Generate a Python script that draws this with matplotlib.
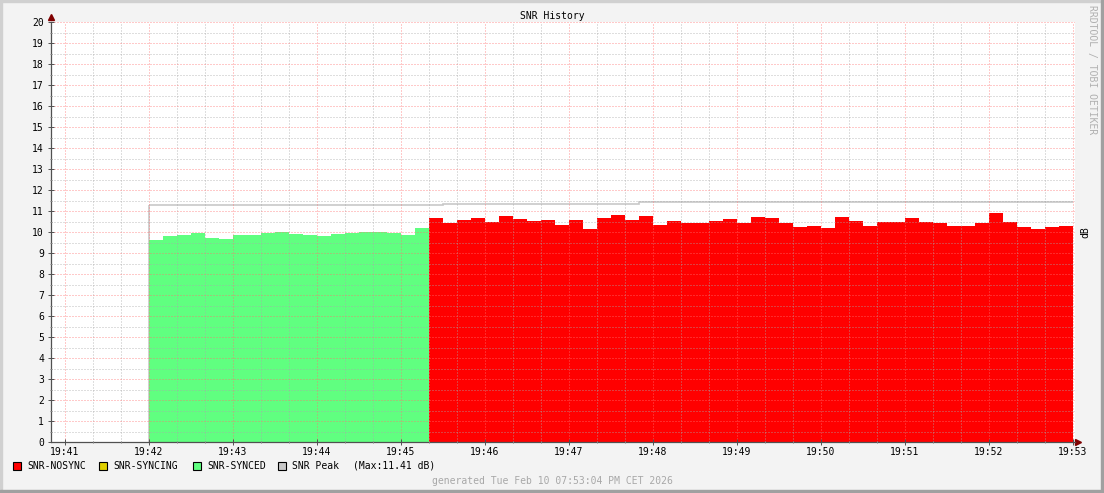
import numpy as np
import matplotlib
matplotlib.use("Agg")  # no display
import matplotlib.pyplot as plt
from matplotlib.patches import Rectangle
from matplotlib.ticker import FixedLocator, MultipleLocator

# --- data (time in seconds after 19:41:00, 10 s steps) ---
step_seconds = 10
synced_start = 60      # 19:42:00
synced_snr = [9.62, 9.81, 9.86, 9.95, 9.71, 9.67, 9.86, 9.86, 9.95, 10.00,
              9.90, 9.86, 9.81, 9.90, 9.95, 10.00, 10.00, 9.95, 9.86, 10.19]
nosync_snr = [10.67, 10.43, 10.57, 10.67, 10.48, 10.76, 10.62, 10.52, 10.57, 10.33,
              10.57, 10.14, 10.67, 10.81, 10.57, 10.76, 10.33, 10.52, 10.43, 10.43,
              10.52, 10.62, 10.43, 10.71, 10.67, 10.43, 10.24, 10.29, 10.19, 10.71,
              10.52, 10.29, 10.48, 10.48, 10.67, 10.48, 10.43, 10.29, 10.29, 10.43,
              10.90, 10.48, 10.24, 10.14, 10.24, 10.29]
peak_edges = [60, 270, 410, 720]
peak_values = [11.29, 11.33, 11.41]
time_labels = ["19:41", "19:42", "19:43", "19:44", "19:45", "19:46", "19:47",
               "19:48", "19:49", "19:50", "19:51", "19:52", "19:53"]

legend_items = [("SNR-NOSYNC", "#ff0000"), ("SNR-SYNCING", "#e0d000"),
                ("SNR-SYNCED", "#60ff80"), ("SNR Peak", "#c8c8c8")]

W, H = 1104, 493
MONO = "DejaVu Sans Mono"
FS = 7


def fx(px):
    return px / W


def fy(py):
    return 1 - py / H


fig = plt.figure(figsize=(W / 100, H / 100), dpi=100, facecolor="#f3f3f3")
ax = fig.add_axes([fx(51), fy(442), fx(1075) - fx(51), (442 - 22) / H])
ax.set_facecolor("white")

synced_edges = synced_start + step_seconds * np.arange(len(synced_snr) + 1)
nosync_edges = synced_edges[-1] + step_seconds * np.arange(len(nosync_snr) + 1)

# peak line (rises from zero at its first sample, hidden under the areas)
ax.stairs(peak_values, peak_edges, baseline=None, color="#c8c8c8", lw=1.2, zorder=0.5)
ax.vlines(peak_edges[0], 0, peak_values[0], color="#c8c8c8", lw=1.2, zorder=0.5)
ax.stairs(synced_snr, synced_edges, baseline=0, fill=True, color="#60ff80", zorder=1)
ax.stairs(nosync_snr, nosync_edges, baseline=0, fill=True, color="#ff0000", zorder=1)

ax.set_xlim(-10, 721.4)
ax.set_ylim(0, 20)

ax.xaxis.set_major_locator(FixedLocator(60 * np.arange(len(time_labels))))
ax.set_xticklabels(time_labels)
ax.xaxis.set_minor_locator(MultipleLocator(20))
ax.yaxis.set_major_locator(MultipleLocator(1))
ax.yaxis.set_minor_locator(MultipleLocator(0.5))

ax.set_axisbelow(False)
ax.grid(which="minor", color="#a8a8a8", alpha=0.75, lw=0.72, linestyle=(0, (1, 2)))
ax.grid(which="major", color="#ff7070", alpha=0.75, lw=0.72, linestyle=(0, (1, 2)))

for side in ("top", "right"):
    ax.spines[side].set_visible(False)
for side in ("left", "bottom"):
    ax.spines[side].set_color("#505050")
    ax.spines[side].set_linewidth(0.9)

ax.tick_params(axis="both", which="major", direction="inout", length=4,
               width=0.7, color="#505050", labelsize=FS)
ax.tick_params(axis="both", which="minor", direction="inout", length=2,
               width=0.7, color="#808080")
ax.tick_params(axis="y", which="major", pad=3)
ax.tick_params(axis="x", which="major", pad=1.6)
for lab in ax.get_xticklabels() + ax.get_yticklabels():
    lab.set_fontfamily(MONO)

# axis arrows
ax.plot([0], [1 + 5 / 420], marker="^", ms=4, color="#800000",
        transform=ax.transAxes, clip_on=False)
ax.plot([1 + 3 / 1024], [0], marker=">", ms=4, color="#800000",
        transform=ax.transAxes, clip_on=False)

# texts
fig.text(fx(552), fy(16), "SNR History", ha="center", va="center",
         fontsize=FS, family=MONO)
fig.text(fx(1092), fy(5), "RRDTOOL / TOBI OETIKER", rotation=270, ha="center",
         va="top", fontsize=FS, family=MONO, color="#b0b0b0")
fig.text(fx(1085), fy(232), "dB", rotation=90, ha="center", va="center",
         fontsize=FS, family=MONO)
fig.text(fx(552), fy(481), "generated Tue Feb 10 07:53:04 PM CET 2026",
         ha="center", va="center", fontsize=FS, family=MONO, color="#a8a8a8")

# legend
legend_x = [13, 99, 193, 278]
for (name, color), x in zip(legend_items, legend_x):
    fig.patches.append(Rectangle((fx(x), fy(470)), 8 / W, 8 / H, transform=fig.transFigure,
                                 facecolor=color, edgecolor="black", lw=0.8))
    fig.text(fx(x + 14), fy(466), name, ha="left", va="center", fontsize=FS, family=MONO)
fig.text(fx(353), fy(466), "(Max:{:.2f} dB)".format(max(peak_values)), ha="left",
         va="center", fontsize=FS, family=MONO)

# frame
fig.patches.append(Rectangle((0, fy(2)), 1, 2 / H, transform=fig.transFigure, color="#d0d0d0"))
fig.patches.append(Rectangle((0, 0), 2 / W, 1, transform=fig.transFigure, color="#d0d0d0"))
fig.patches.append(Rectangle((0, 0), 1, 3 / H, transform=fig.transFigure, color="#a0a0a0"))
fig.patches.append(Rectangle((fx(1101), 0), 3 / W, 1, transform=fig.transFigure, color="#a0a0a0"))

fig.savefig("out.png", dpi=100, facecolor=fig.get_facecolor())
